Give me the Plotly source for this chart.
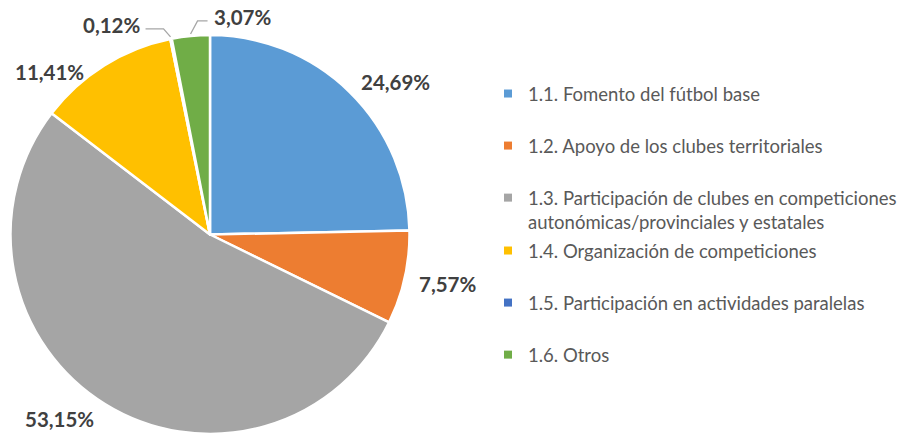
import math
import plotly.graph_objects as go

# ---------------- data ----------------
categories = [
    "1.1. Fomento del fútbol base",
    "1.2. Apoyo de los clubes territoriales",
    "1.3. Participación de clubes en competiciones<br>autonómicas/provinciales y estatales",
    "1.4. Organización de competiciones",
    "1.5. Participación en actividades paralelas",
    "1.6. Otros",
]
values = [24.69, 7.57, 53.15, 11.41, 0.12, 3.07]
value_labels = ["24,69%", "7,57%", "53,15%", "11,41%", "0,12%", "3,07%"]
colors = ["#5B9BD5", "#ED7D31", "#A5A5A5", "#FFC000", "#4472C4", "#70AD47"]

# ---------------- layout / style ----------------
W, H = 898, 434
CX, CY, R = 210, 235, 200          # pie centre & radius (px)
LABEL_R = 212                       # radial distance for label anchor
label_nudge = [(1, -2), (0, 3), (-2, 4), (-12, 17), None, None]   # px nudges
# leader-line labels: (elbow dx, elbow dy, horizontal length)
leader = {4: (-7, -8, -18), 5: (7, -13, 10)}
LABEL_FONT = dict(family="Lato", size=20.5, color="#404040")
LEGEND_FONT = dict(family="Lato", size=18.5, color="#595959")
LEADER_COLOR = "#A6A6A6"


def px2paper(x, y):
    return x / W, 1 - y / H


fig = go.Figure()
fig.add_trace(go.Pie(
    labels=categories, values=values, sort=False, direction="clockwise",
    rotation=0, textinfo="none", hoverinfo="label+percent",
    marker=dict(colors=colors, line=dict(color="white", width=2.5)),
    showlegend=False,
    domain=dict(x=[(CX - R) / W, (CX + R) / W], y=[max(0, (H - CY - R) / H), (H - CY + R) / H]),
))

# legend via dummy traces (two legends so the wrapped entry keeps even spacing)
for i, (cat, col) in enumerate(zip(categories, colors)):
    fig.add_trace(go.Scatter(
        x=[None], y=[None], mode="markers", name=cat, legendgroup=cat,
        legend="legend" if i < 3 else "legend2",
        marker=dict(symbol="square", size=8, color=col),
    ))

annotations = []
shapes = []
total = sum(values)
cum = 0.0
for i, v in enumerate(values):
    mid = (cum + v / 2) / total * 2 * math.pi
    cum += v
    s, c = math.sin(mid), math.cos(mid)
    if leader.get(i) is None:
        px = CX + LABEL_R * s
        py = CY - LABEL_R * c
        dx, dy = label_nudge[i]
        x, y = px2paper(px + dx, py + dy)
        annotations.append(dict(
            x=x, y=y, xref="paper", yref="paper", text="<b>%s</b>" % value_labels[i],
            showarrow=False, xanchor="left" if s > 0 else "right", yanchor="middle",
            font=LABEL_FONT,
        ))
    else:
        ex, ey = CX + (R + 2) * s, CY - (R + 2) * c
        edx, edy, hl = leader[i]
        bx, by = ex + edx, ey + edy
        tx = bx + hl
        p = [px2paper(ex, ey), px2paper(bx, by), px2paper(tx, by)]
        path = "M %f %f L %f %f L %f %f" % (p[0][0], p[0][1], p[1][0], p[1][1], p[2][0], p[2][1])
        shapes.append(dict(type="path", path=path, xref="paper", yref="paper",
                           line=dict(color=LEADER_COLOR, width=1.3)))
        x, y = px2paper(tx + (4 if hl > 0 else -4), by - 4)
        annotations.append(dict(
            x=x, y=y, xref="paper", yref="paper", text="<b>%s</b>" % value_labels[i],
            showarrow=False, xanchor="left" if hl > 0 else "right", yanchor="middle",
            font=LABEL_FONT,
        ))

legend_common = dict(xanchor="left", yanchor="top", font=LEGEND_FONT,
                     tracegroupgap=25, valign="top", bgcolor="rgba(0,0,0,0)")
fig.update_layout(
    width=W, height=H, margin=dict(l=0, r=0, t=0, b=0, autoexpand=False),
    paper_bgcolor="white", plot_bgcolor="white",
    xaxis=dict(visible=False), yaxis=dict(visible=False),
    annotations=annotations, shapes=shapes,
    legend=dict(x=488 / W, y=1 - 75 / H, **legend_common),
    legend2=dict(x=488 / W, y=1 - 232 / H, **legend_common),
)

fig.write_html("out.html", config={"displayModeBar": False},
               post_script="document.body.style.margin='0';")
